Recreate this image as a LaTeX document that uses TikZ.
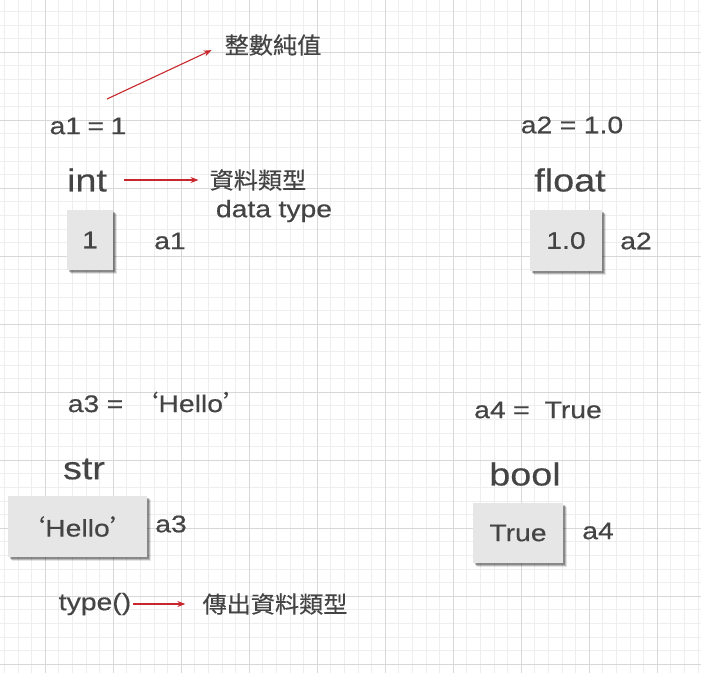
\documentclass[tikz,border=0pt]{standalone}
\usepackage{fontspec}
\setmainfont[FakeStretch=1.18,FakeBold=0.4,WordSpace=0.95]{Liberation Sans}
\newfontfamily\cjk[FakeStretch=1.05,FakeBold=0.3]{Noto Sans CJK TC}
\usetikzlibrary{arrows.meta,shadows}
\definecolor{txt}{RGB}{68,68,68}
\definecolor{boxfill}{RGB}{230,230,230}
\definecolor{arr}{RGB}{200,40,45}
\definecolor{gridminor}{RGB}{238,238,238}
\definecolor{gridmajor}{RGB}{216,216,216}
\tikzset{
  lbl/.style={text=txt, font=\fontsize{24}{27}\selectfont, inner sep=2pt},
  typ/.style={text=txt, font=\fontsize{32}{36}\selectfont, inner sep=2pt},
  cj/.style={text=txt, font=\fontsize{23}{27}\selectfont\cjk, inner sep=2pt},
  valbox/.style={fill=boxfill, text=txt, font=\fontsize{24}{27}\selectfont,
    inner sep=0pt,
    general shadow={shadow xshift=3.5pt, shadow yshift=-3.5pt, opacity=0.10, fill=black},
    general shadow={shadow xshift=2.5pt, shadow yshift=-2.5pt, opacity=0.20, fill=black},
    general shadow={shadow xshift=1.5pt, shadow yshift=-1.5pt, opacity=0.25, fill=black}},
  redarrow/.style={draw=arr, line width=1.1pt, -{Stealth[length=8pt,width=6pt]}},
}
\begin{document}
\begin{tikzpicture}[x=1pt,y=-1pt]
\useasboundingbox (0,0) rectangle (701,673);
\fill[white] (0,0) rectangle (701,673);
% grid
\foreach \i in {-3,...,48} {
  \draw[gridminor, line width=0.6pt] ({45+13.6*\i},0) -- ({45+13.6*\i},673);
  \draw[gridminor, line width=0.6pt] (0,{52+13.6*\i}) -- (701,{52+13.6*\i});
}
\foreach \i in {-1,...,9} {
  \draw[gridmajor, line width=0.8pt] ({45+68*\i},0) -- ({45+68*\i},673);
  \draw[gridmajor, line width=0.8pt] (0,{52+68*\i}) -- (701,{52+68*\i});
}
% top-left: int
\node[cj] (zs) at (273,45) {整數純值};
\node[lbl] (a1eq) at (88,126) {a1\hspace{-1pt} = \hspace{-1pt}1};
\coordinate (a1s) at (107,99);
\draw[redarrow, shorten >=12pt] (a1s) -- (zs.west);
\node[typ] (int) at (87,180) {int};
\node[cj] (dt) at (258,180) {資料類型};
\node[lbl] (dten) at (274,211) {data type};
\draw[redarrow, shorten <=15pt, shorten >=9pt] (int.east) -- (dt.west);
\node[valbox, minimum width=46pt, minimum height=60pt] (v1) at (90,240) {1};
\node[lbl] (n1) at (170,241) {a1};
% top-right: float
\node[lbl] (a2eq) at (572,125) {a2 = 1.0};
\node[typ] (flt) at (570,180) {float};
\node[valbox, minimum width=72pt, minimum height=61pt] (v2) at (566,240.5) {1.0};
\node[lbl] (n2) at (636,241) {a2};
% bottom-left: str
\node[lbl] (a3eq) at (158,402) {a3 =\hspace{10pt}{\cjk ‘}Hello{\cjk ’}};
\node[typ] (str) at (84,469) {str};
\node[valbox, minimum width=139pt, minimum height=61pt] (v3) at (77.5,526.5) {{\cjk ‘}Hello{\cjk ’}};
\node[lbl] (n3) at (171,524) {a3};
\node[lbl] (tp) at (95,604) {type()};
\node[cj] (ret) at (275,604) {傳出資料類型};
\draw[redarrow, shorten >=15pt] (tp.east) -- (ret.west);
% bottom-right: bool
\node[lbl] (a4eq) at (538,410) {a4 =\ \ True};
\node[typ] (bl) at (525,474) {bool};
\node[valbox, minimum width=90pt, minimum height=60pt] (v4) at (518,533) {True};
\node[lbl] (n4) at (598,531) {a4};
\end{tikzpicture}
\end{document}
